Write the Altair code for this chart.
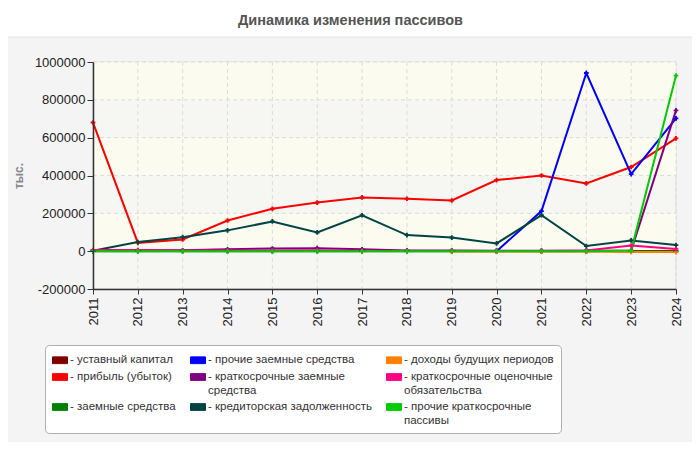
import altair as alt
import pandas as pd

# years on the x axis
years = [2011, 2012, 2013, 2014, 2015, 2016, 2017, 2018, 2019, 2020, 2021, 2022, 2023, 2024]

# series values
ustavny_kapital = [1000, 1000, 1000, 1000, 1000, 1000, 1000, 1000, 1000, 1000, 1000, 1000, 1000, 1000]
pribyl = [680000, 44000, 62000, 162000, 224000, 257000, 284000, 277000, 268000, 376000, 400000, 358000, 445000, 596000]
zaemnye = [0, 0, 0, 0, 0, 0, 0, 0, 0, 0, 0, 0, 0, 0]
prochie_zaemnye = [None, None, None, None, None, None, None, None, None, 0, 212000, 942000, 407000, 702000]
kratk_zaemnye = [5000, 5000, 5000, 10000, 14000, 16000, 10000, 4000, 3000, 2000, 2000, 2000, 2000, 744000]
kreditorskaya = [2000, 48000, 74000, 110000, 157000, 99000, 190000, 85000, 72000, 41000, 190000, 27000, 57000, 32000]
dokhody = [None, None, None, None, None, None, None, None, -2000, -2000, -2000, -2000, -4000, -5000]
otsenochnye = [6000, 6000, 4000, 3000, 3000, 3000, 2000, 1000, 1000, 1000, 1000, 4000, 30000, 12000]
prochie_kratk = [0, 0, 0, 0, 0, 0, 0, 0, 0, 0, 0, 0, 3000, 928000]

# series names in drawing order, with their colours
names = [
    "уставный капитал",
    "прибыль (убыток)",
    "заемные средства",
    "прочие заемные средства",
    "краткосрочные заемные средства",
    "кредиторская задолженность",
    "доходы будущих периодов",
    "краткосрочные оценочные обязательства",
    "прочие краткосрочные пассивы",
]
colors = ["#800000", "#ff0000", "#008000", "#0000ff", "#800080",
          "#004444", "#ff8000", "#ff0080", "#00cc00"]
series = [ustavny_kapital, pribyl, zaemnye, prochie_zaemnye, kratk_zaemnye,
          kreditorskaya, dokhody, otsenochnye, prochie_kratk]

y_ticks = [-200000, 0, 200000, 400000, 600000, 800000, 1000000]
band_lo = [0, 400000, 800000]
band_hi = [200000, 600000, 1000000]

W, H = 583, 227
FONT = "Liberation Sans"

rows = []
for name, vals in zip(names, series):
    for yr, v in zip(years, vals):
        rows.append({"year": yr, "value": v, "series": name})
df = pd.DataFrame(rows)

# long names are broken over two lines in the legend
wrapped = {
    "краткосрочные заемные средства": ["краткосрочные заемные", "средства"],
    "краткосрочные оценочные обязательства": ["краткосрочные оценочные", "обязательства"],
    "прочие краткосрочные пассивы": ["прочие краткосрочные", "пассивы"],
}
label_expr = ""
for k, (a, b) in wrapped.items():
    label_expr += f"datum.label == '{k}' ? ['- {a}', '\u00a0\u00a0{b}'] : "
label_expr += "'- ' + datum.label"

color_scale = alt.Scale(domain=names, range=colors)
y_scale = alt.Scale(domain=[-200000, 1000000], nice=False, zero=False)
x_scale = alt.Scale(type="point", padding=0)

x_axis = alt.Axis(
    title=None, labelAngle=-90, labelFontSize=13, labelColor="#222",
    labelFont=FONT, domainColor="#333", domainWidth=1.5, tickColor="#333",
    tickSize=5, labelPadding=3, grid=False, zindex=1,
)
y_axis = alt.Axis(
    values=y_ticks, labelExpr="'' + datum.value", title="тыс.",
    titleFontSize=12, titleFont=FONT, titleColor="#888", titleFontWeight="bold",
    titleX=-68, titleY=H / 2, labelFontSize=13, labelColor="#222", labelFont=FONT,
    domainColor="#333", domainWidth=1.5, tickColor="#333", tickSize=6,
    labelPadding=2, grid=False, zindex=1,
)

one = pd.DataFrame({"a": [0]})

panel = alt.Chart(one).mark_rect(
    fill="#f4f4f4", stroke="#e2e2e2", strokeWidth=1, cornerRadius=8
).encode(x=alt.value(-93), x2=alt.value(604), y=alt.value(-25), y2=alt.value(386))

plot_bg = alt.Chart(pd.DataFrame({"value": [y_ticks[0]], "value2": [y_ticks[-1]]})).mark_rect(
    fill="#f6f6f3", stroke="#dddddd", strokeWidth=1
).encode(
    x=alt.value(0), x2=alt.value(W),
    y=alt.Y("value:Q", scale=y_scale, axis=y_axis), y2="value2:Q",
)

bands = alt.Chart(pd.DataFrame({"value": band_lo, "value2": band_hi})).mark_rect(
    fill="#fbfbef"
).encode(
    x=alt.value(0), x2=alt.value(W),
    y=alt.Y("value:Q", scale=y_scale, axis=y_axis), y2="value2:Q",
)

hgrid = alt.Chart(pd.DataFrame({"value": y_ticks})).mark_rule(
    color="#dcdcdc", strokeDash=[4, 3], strokeWidth=1
).encode(y=alt.Y("value:Q", scale=y_scale, axis=y_axis), x=alt.value(0), x2=alt.value(W))

vgrid = alt.Chart(pd.DataFrame({"year": years})).mark_rule(
    color="#dcdcdc", strokeDash=[4, 3], strokeWidth=1
).encode(x=alt.X("year:O", scale=x_scale, axis=x_axis), y=alt.value(0), y2=alt.value(H))

base = alt.Chart(df).encode(
    x=alt.X("year:O", scale=x_scale, axis=x_axis),
    y=alt.Y("value:Q", scale=y_scale, axis=y_axis),
)

leg = alt.Legend(
    title=None, orient="none", legendX=-48, legendY=283, columns=3,
    direction="vertical", labelExpr=label_expr,
    symbolType="M-1,-0.45L1,-0.45L1,0.45L-1,0.45Z", symbolSize=225,
    symbolStrokeColor="#999", symbolStrokeWidth=1,
    labelFont=FONT, labelFontSize=11.5, labelColor="#333", labelLimit=300, labelOffset=2,
    columnPadding=12, rowPadding=3, padding=7, zindex=2,
    fillColor="#ffffff", strokeColor="#b0b0b0", cornerRadius=4,
)

lines = base.mark_line(strokeWidth=2).encode(
    color=alt.Color("series:N", scale=color_scale, legend=leg),
    detail="series:N",
)

points = base.mark_point(shape="cross", size=22, filled=True, opacity=1).encode(
    color=alt.Color("series:N", scale=color_scale, legend=leg),
)

chart = alt.layer(panel, plot_bg, bands, hgrid, vgrid, lines, points).properties(
    width=W, height=H,
    title=alt.TitleParams(
        "Динамика изменения пассивов", font=FONT, fontSize=14.5, fontWeight="bold",
        color="#555", anchor="middle", dx=-34, offset=8,
    ),
    autosize=alt.AutoSizeParams(type="none"),
    padding={"left": 85, "top": 54, "right": 16, "bottom": 153},
).configure_view(stroke=None).configure(background="#ffffff")

chart.save("out.html", embed_options={"renderer": "svg", "actions": False})
